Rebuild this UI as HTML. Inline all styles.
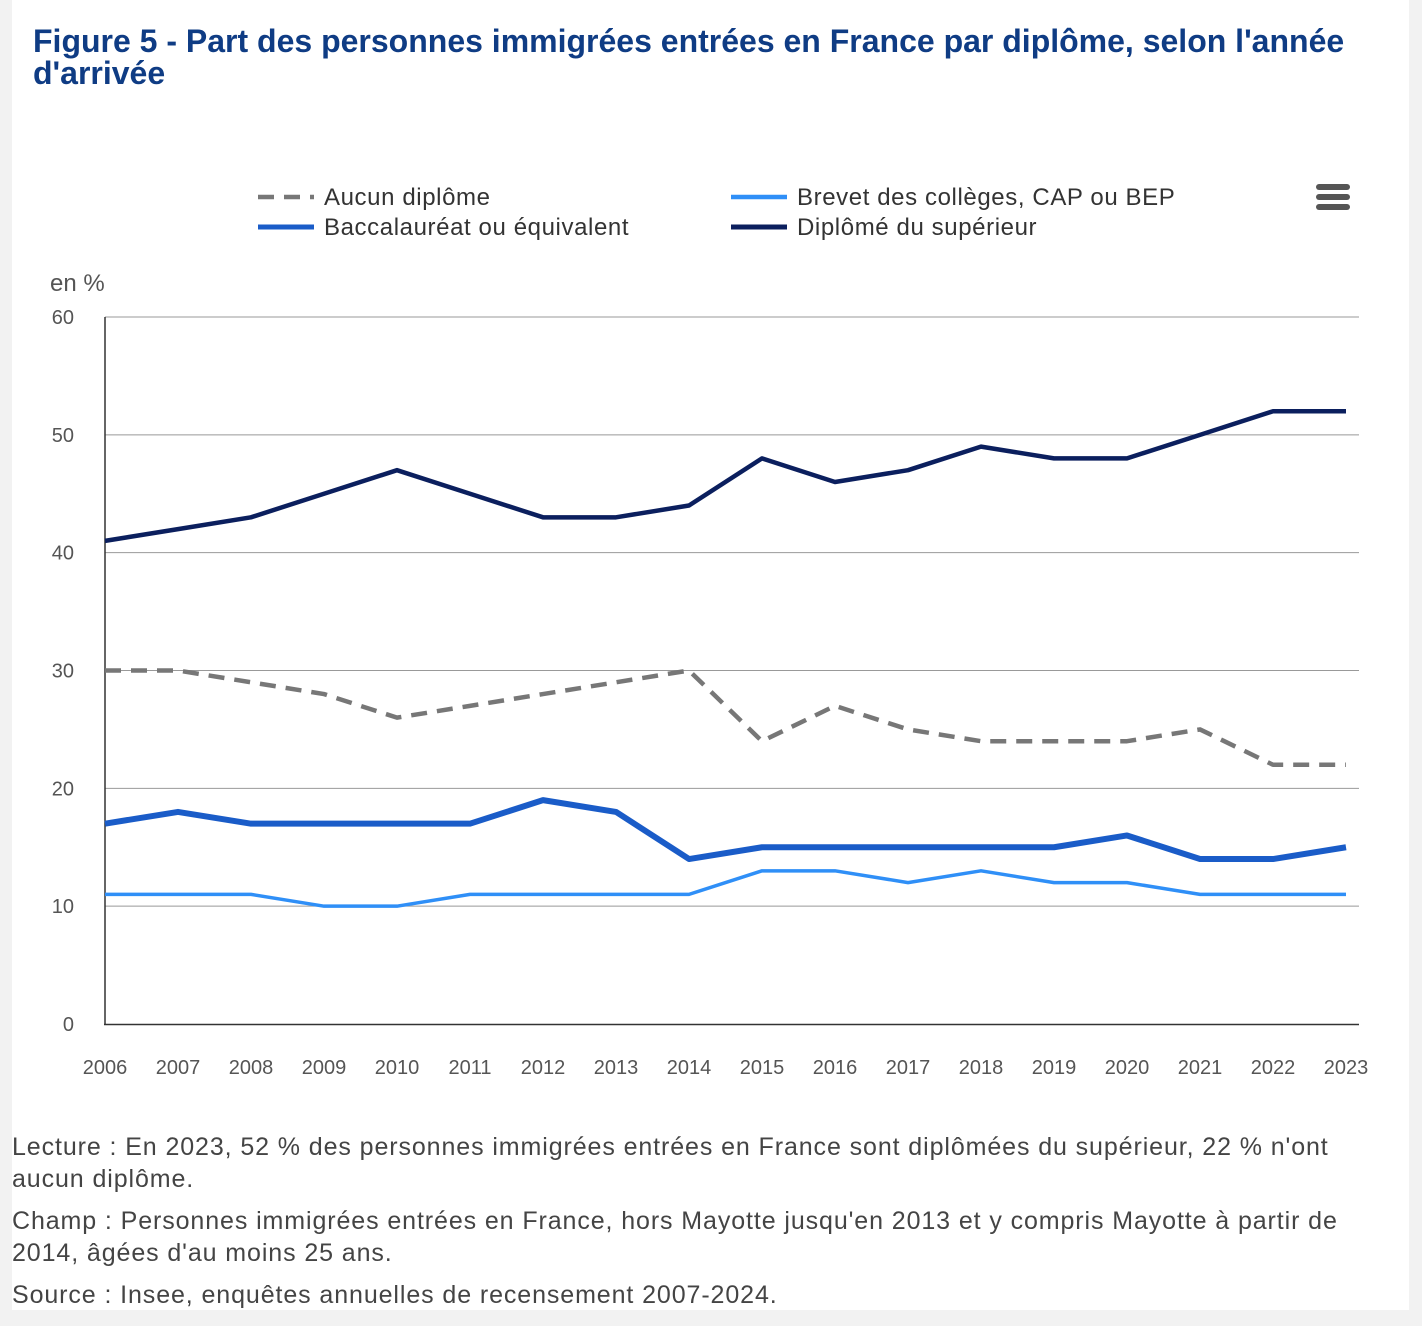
<!DOCTYPE html>
<html><head><meta charset="utf-8"><style>
body{margin:0;width:1422px;height:1326px;background:#f2f2f2;font-family:"Liberation Sans",sans-serif;position:relative;overflow:hidden}
#panel{position:absolute;left:12px;top:0;width:1397px;height:1310px;background:#fff}
h1{position:absolute;left:33px;top:25px;margin:0;font-size:32px;line-height:32px;color:#0f3c84;font-weight:bold;width:1380px;white-space:nowrap}
.note{position:absolute;left:12px;font-size:25px;line-height:32px;color:#444;width:1400px;white-space:nowrap;letter-spacing:0.9px}
svg{position:absolute;left:0;top:0}
</style></head><body>
<div id="panel"></div>
<h1>Figure 5 - Part des personnes immigrées entrées en France par diplôme, selon l'année<br>d'arrivée</h1>
<svg id="chart" width="1422" height="1326"></svg>
<div class="note" style="top:1131px">Lecture : En 2023, 52 % des personnes immigrées entrées en France sont diplômées du supérieur, 22 % n'ont<br>aucun diplôme.</div>
<div class="note" style="top:1205px">Champ : Personnes immigrées entrées en France, hors Mayotte jusqu'en 2013 et y compris Mayotte à partir de<br>2014, âgées d'au moins 25 ans.</div>
<div class="note" style="top:1279px">Source : Insee, enquêtes annuelles de recensement 2007-2024.</div>
<script>
const years=[2006,2007,2008,2009,2010,2011,2012,2013,2014,2015,2016,2017,2018,2019,2020,2021,2022,2023];
const aucun=[30,30,29,28,26,27,28,29,30,24,27,25,24,24,24,25,22,22];
const brevet=[11,11,11,10,10,11,11,11,11,13,13,12,13,12,12,11,11,11];
const bac=[17,18,17,17,17,17,19,18,14,15,15,15,15,15,16,14,14,15];
const sup=[41,42,43,45,47,45,43,43,44,48,46,47,49,48,48,50,52,52];
const yTicks=[0,10,20,30,40,50,60];
const NS="http://www.w3.org/2000/svg";
const svg=document.getElementById('chart');
const x=i=>105+i*(1346-105)/(years.length-1);
const y=v=>1024-v*(1024-317)/60;
function mk(t,a,txt){const e=document.createElementNS(NS,t);for(const k in a)e.setAttribute(k,a[k]);if(txt!=null)e.textContent=txt;svg.appendChild(e);return e;}
yTicks.forEach(v=>{
 if(v>0){const g=mk('line',{x1:105,x2:1359,y1:y(v),y2:y(v),stroke:'#999','stroke-width':1});
 
 }
 const t=mk('text',{x:74,y:y(v)+7,'text-anchor':'end','font-size':20,fill:'#555','font-family':'Liberation Sans'},v);
 
 
});
const ax=mk('line',{x1:105,x2:105,y1:317,y2:1025,stroke:'#333','stroke-width':1.5});


const bx=mk('line',{x1:104,x2:1359,y1:1024.5,y2:1024.5,stroke:'#333','stroke-width':1.5});


years.forEach((yr,i)=>{const t=mk('text',{x:x(i),y:1074,'text-anchor':'middle','font-size':20,fill:'#555','font-family':'Liberation Sans'},yr);
 
 });
const yt=mk('text',{x:50,y:291,'font-size':24,fill:'#555','font-family':'Liberation Sans'},'en %');


const series=[
 {d:aucun,c:'#777',w:4.5,dash:'16 10',n:'series-aucun-diplome'},
 {d:brevet,c:'#2f8ff7',w:3.5,dash:null,n:'series-brevet'},
 {d:bac,c:'#1a5cc8',w:6,dash:null,n:'series-baccalaureat'},
 {d:sup,c:'#0b1f5e',w:4.5,dash:null,n:'series-superieur'}];
series.forEach(s=>{
 const p=mk('polyline',{points:s.d.map((v,i)=>x(i)+','+y(v)).join(' '),fill:'none',stroke:s.c,'stroke-width':s.w,'stroke-linejoin':'round'});
 if(s.dash)p.setAttribute('stroke-dasharray',s.dash);
 
 
});
const leg=[['Aucun diplôme','#777',258,197,true,4.5],['Brevet des collèges, CAP ou BEP','#2f8ff7',731,197,false,4.5],['Baccalauréat ou équivalent','#1a5cc8',258,227,false,5],['Diplômé du supérieur','#0b1f5e',731,227,false,5]];
leg.forEach(l=>{
 const ln=mk('line',{x1:l[2],x2:l[2]+56,y1:l[3],y2:l[3],stroke:l[1],'stroke-width':l[5]});
 if(l[4])ln.setAttribute('stroke-dasharray','16 10');
 
 
 const t=mk('text',{x:l[2]+66,y:l[3]+8,'font-size':24,'letter-spacing':0.6,fill:'#333','font-family':'Liberation Sans'},l[0]);
 
 
});
[187,197,207].forEach(yy=>{const r=mk('rect',{x:1316,y:yy-3,width:34,height:6,rx:3,fill:'#555'});
 
 });
</script>
</body></html>
